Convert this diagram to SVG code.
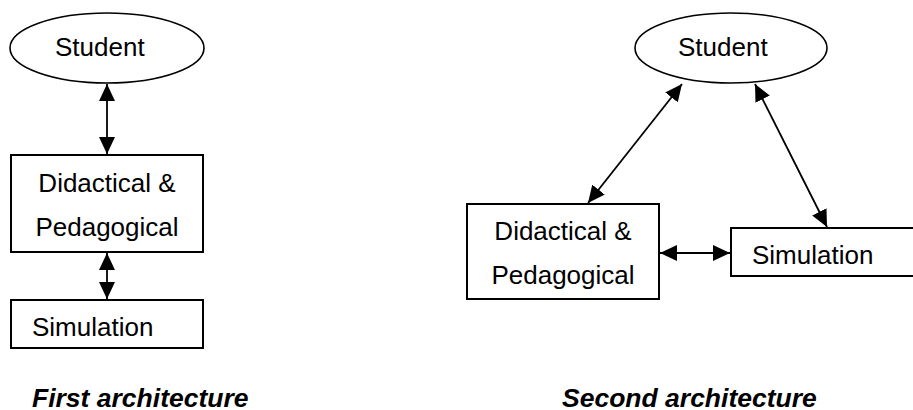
<svg xmlns="http://www.w3.org/2000/svg" width="913" height="410" viewBox="0 0 913 410">
<defs>
<style>
.shape{fill:#fff;stroke:#000;stroke-width:2}
.lbl{font-family:"Liberation Sans",Arial,sans-serif;font-size:26px;fill:#000}
.c{text-anchor:middle}
.cap{font-family:"Liberation Sans",Arial,sans-serif;font-size:26.5px;font-weight:bold;font-style:italic;fill:#000}
.conn{fill:none;stroke:#000;stroke-width:1.8;marker-start:url(#ah);marker-end:url(#ah)}
</style>
<marker id="ah" markerUnits="userSpaceOnUse" markerWidth="17" markerHeight="16" refX="17" refY="8" orient="auto-start-reverse" viewBox="0 0 17 16">
<path d="M0,0 L17,8 L0,16 z" fill="#000"/>
</marker>
</defs>
<rect width="913" height="410" fill="#fff"/>
<g id="connectors">
<line class="conn" x1="107" y1="84" x2="107" y2="154"/>
<line class="conn" x1="107" y1="253" x2="107" y2="299"/>
<line class="conn" x1="682" y1="84" x2="588" y2="203"/>
<line class="conn" x1="755" y1="84" x2="827" y2="227"/>
<line class="conn" x1="660" y1="253" x2="730" y2="253"/>
</g>
<g id="student1">
<ellipse class="shape" cx="107" cy="48" rx="97" ry="35" style="stroke-width:1.6"/>
<text class="lbl" x="55" y="56">Student</text>
</g>
<g id="didactical1">
<rect class="shape" x="11" y="155" width="192" height="97"/>
<text class="lbl c" x="107" y="192">Didactical &amp;</text>
<text class="lbl c" x="107" y="236">Pedagogical</text>
</g>
<g id="simulation1">
<rect class="shape" x="11" y="300" width="192" height="48"/>
<text class="lbl" x="32" y="336">Simulation</text>
</g>
<g id="student2">
<ellipse class="shape" cx="731" cy="48" rx="96" ry="35" style="stroke-width:1.6"/>
<text class="lbl" x="678" y="56">Student</text>
</g>
<g id="didactical2">
<rect class="shape" x="467" y="204" width="192" height="95"/>
<text class="lbl c" x="563" y="240">Didactical &amp;</text>
<text class="lbl c" x="563" y="284">Pedagogical</text>
</g>
<g id="simulation2">
<rect class="shape" x="731" y="228" width="192" height="48"/>
<text class="lbl" x="752" y="264">Simulation</text>
</g>
<g id="captions">
<text class="cap" x="32" y="407">First architecture</text>
<text class="cap" x="562" y="407">Second architecture</text>
</g>
</svg>
